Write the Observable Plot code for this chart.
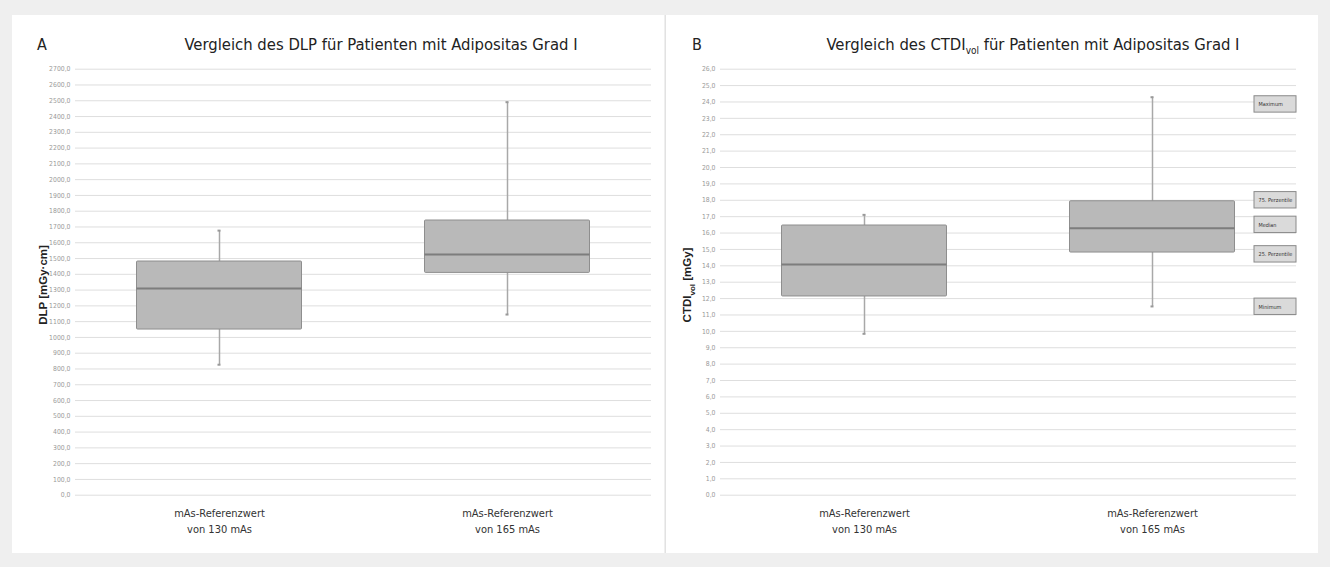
<!DOCTYPE html>
<html>
<head>
<meta charset="utf-8">
<script src="https://cdn.jsdelivr.net/npm/d3@7"></script>
<script src="https://cdn.jsdelivr.net/npm/@observablehq/plot@0.6"></script>
<style>
  html, body { margin: 0; padding: 0; background: #efefef; }
  #root { position: relative; width: 1330px; height: 567px; overflow: hidden; background: #efefef;
          font-family: "Liberation Sans Narrow", "DejaVu Sans Condensed", "Open Sans", sans-serif; }
  .panel { position: absolute; top: 15px; height: 538px; background: #fff; }
  .chart { position: absolute; top: 0; }
  .title { position: absolute; top: 35px; font-size: 16.5px; color: #222; white-space: nowrap; transform: translateX(-50%); }
  .letter { position: absolute; top: 35px; font-size: 16px; color: #222; }
  .ylab { position: absolute; font-size: 11.5px; font-weight: bold; color: #222; white-space: nowrap;
          transform: translate(-50%, -50%) rotate(-90deg); font-family: "Liberation Sans", Arial, sans-serif; }
  .ylab sub { font-size: 8px; }
  .title sub { font-size: 10px; }
</style>
</head>
<body>
<div id="root">
  <div class="panel" style="left:12px; width:652px;"></div>
  <div class="panel" style="left:666px; width:652px;"></div>
  <div style="position:absolute; left:665px; top:15px; width:1px; height:538px; background:#e2e2e2;"></div>
  <div id="left" class="chart" style="left:0px;"></div>
  <div id="right" class="chart" style="left:665px;"></div>
  <div class="letter" style="left:37px;">A</div>
  <div class="title" style="left:381px;">Vergleich des DLP für Patienten mit Adipositas Grad I</div>
  <div class="letter" style="left:692px;">B</div>
  <div class="title" style="left:1033px;">Vergleich des CTDI<sub>vol</sub> für Patienten mit Adipositas Grad I</div>
  <div class="ylab" style="left:43px; top:285px;">DLP [mGy·cm]</div>
  <div class="ylab" style="left:689px; top:285px;">CTDI<sub>vol</sub> [mGy]</div>
</div>
<script>
// ---- data ----
const categories = ["130 mAs", "165 mAs"];
const xLabels = ["mAs-Referenzwert\nvon 130 mAs", "mAs-Referenzwert\nvon 165 mAs"];

const dlpMin    = [827, 1145];
const dlpQ1     = [1050, 1409];
const dlpMedian = [1310, 1525];
const dlpQ3     = [1481, 1741];
const dlpMax    = [1677, 2491];
const dlpTicks  = d3.range(0, 2701, 100);

const ctdiMin    = [9.85, 11.52];
const ctdiQ1     = [12.13, 14.81];
const ctdiMedian = [14.08, 16.30];
const ctdiQ3     = [16.46, 17.94];
const ctdiMax    = [17.11, 24.29];
const ctdiTicks  = d3.range(0, 26.5, 1);

const legendLabels = ["Maximum", "75. Perzentile", "Median", "25. Perzentile", "Minimum"];
const legendY      = [23.85, 18.0, 16.5, 14.7, 11.5];

// ---- helpers ----
const fmt = d => d3.format(".1f")(d).replace(".", ",");
const labelOf = Object.fromEntries(categories.map((c, i) => [c, xLabels[i]]));
const FONT = '"Liberation Sans Narrow", "DejaVu Sans Condensed", "Open Sans", sans-serif';

function rows(mn, q1, md, q3, mx) {
  return categories.map((c, i) => ({cat: c, min: mn[i], q1: q1[i], median: md[i], q3: q3[i], max: mx[i]}));
}

function boxChart({data, ticks, yMax, marginLeft, marginRight, extra = []}) {
  const inset = 61.5;
  return Plot.plot({
    width: 665, height: 567,
    marginLeft, marginRight, marginTop: 68.7, marginBottom: 72.3,
    style: {fontFamily: FONT, background: "transparent", overflow: "visible"},
    x: {domain: categories, padding: 0, axis: null},
    y: {domain: [0, yMax], axis: null},
    marks: [
      Plot.gridY(ticks, {stroke: "#dedede", strokeOpacity: 1, strokeWidth: 1}),
      Plot.axisY(ticks, {tickSize: 0, tickPadding: 5, tickFormat: fmt, fontSize: 6.8, fill: "#9a9a9a", label: null}),
      Plot.axisX({tickSize: 0, tickPadding: 10, tickFormat: c => labelOf[c], fontSize: 11, lineHeight: 1.5, fill: "#333", label: null}),
      Plot.ruleX(data, {x: "cat", y1: "min", y2: "max", stroke: "#a8a8a8", strokeWidth: 1.5}),
      Plot.tickY(data, {x: "cat", y: "max", stroke: "#999", strokeWidth: 2, insetLeft: 142.5, insetRight: 142.5}),
      Plot.tickY(data, {x: "cat", y: "min", stroke: "#999", strokeWidth: 2, insetLeft: 142.5, insetRight: 142.5}),
      Plot.barY(data, {x: "cat", y1: "q1", y2: "q3", fill: "#b9b9b9", stroke: "#8e8e8e", strokeWidth: 1, insetLeft: inset, insetRight: inset, rx: 1}),
      Plot.tickY(data, {x: "cat", y: "median", stroke: "#7d7d7d", strokeWidth: 2, insetLeft: inset, insetRight: inset}),
      ...extra
    ]
  });
}

const dlpRows = rows(dlpMin, dlpQ1, dlpMedian, dlpQ3, dlpMax);
const ctdiRows = rows(ctdiMin, ctdiQ1, ctdiMedian, ctdiQ3, ctdiMax);
const legendRows = legendLabels.map((l, i) => ({cat: categories[1], label: l, y: legendY[i]}));

document.getElementById("left").append(boxChart({
  data: dlpRows, ticks: dlpTicks, yMax: 2700, marginLeft: 75, marginRight: 14
}));

document.getElementById("right").append(boxChart({
  data: ctdiRows, ticks: ctdiTicks, yMax: 26, marginLeft: 55, marginRight: 34,
  extra: [
    Plot.barY(legendRows, {x: "cat", y1: d => d.y - 0.5, y2: d => d.y + 0.5, fill: "#dadada", stroke: "#8a8a8a", strokeWidth: 1, insetLeft: 246, insetRight: 0}),
    Plot.text(legendRows, {x: "cat", y: "y", text: "label", dx: 106, textAnchor: "start", fontSize: 5.5, fill: "#333"})
  ]
}));
</script>
</body>
</html>
